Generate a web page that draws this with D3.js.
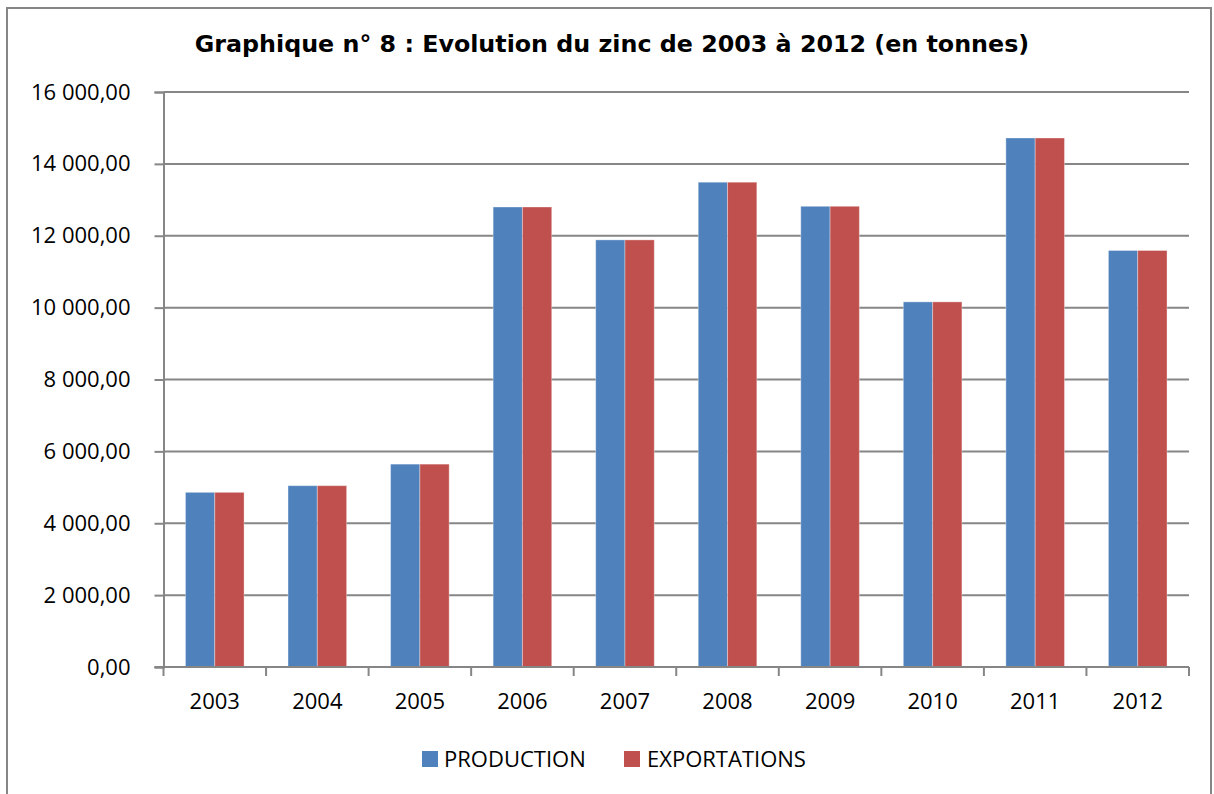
<!DOCTYPE html>
<html>
<head>
<meta charset="utf-8">
<script src="https://cdn.jsdelivr.net/npm/d3@7"></script>
<style>
  body { margin: 0; background: #fff; }
  text { font-family: "Open Sans", Lato, sans-serif; fill: #000; }
</style>
</head>
<body>
<svg id="chart" width="1214" height="794"></svg>
<script>
// data
var years = ["2003", "2004", "2005", "2006", "2007", "2008", "2009", "2010", "2011", "2012"];
var production = [4860, 5045, 5645, 12800, 11885, 13490, 12820, 10160, 14720, 11590];
var exportations = [4860, 5045, 5645, 12800, 11885, 13490, 12820, 10160, 14720, 11590];
var seriesNames = ["PRODUCTION", "EXPORTATIONS"];
var seriesColors = ["#4F81BD", "#C0504D"];
var yTicks = [0, 2000, 4000, 6000, 8000, 10000, 12000, 14000, 16000];

var svg = d3.select("#chart");
var margin = {left: 163.5, right: 1189, top: 92, bottom: 667};

// outer frame
svg.append("path")
    .attr("d", "M7,794 V8 H1211 V794")
    .attr("fill", "none")
    .attr("stroke", "#868686")
    .attr("stroke-width", 2);

var title = svg.append("text")
    .attr("x", 612).attr("y", 52)
    .attr("text-anchor", "middle")
    .style("font-family", "'DejaVu Sans', Verdana, sans-serif")
    .style("font-size", "20px")
    .style("font-weight", "bold")
    .text("Graphique n° 8 : Evolution du zinc de 2003 à 2012 (en tonnes)");
// fit the title to the width it has in the reference
var tw = title.node().getComputedTextLength();
title.style("font-size", (20 * 835 / tw) + "px");

var x = d3.scaleBand()
    .domain(years)
    .range([margin.left, margin.right])
    .paddingInner(1.5 / 3.5)
    .paddingOuter(0.75 / 3.5);

var x1 = d3.scaleBand()
    .domain(seriesNames)
    .range([0, x.bandwidth()]);

var y = d3.scaleLinear()
    .domain([0, 16000])
    .range([margin.bottom, margin.top]);

var fmt = function (v) {
    var s = d3.format(",.2f")(v);
    return s.replace(/,/g, " ").replace(".", ",");
};

// gridlines
svg.append("g")
    .selectAll("line")
    .data(yTicks.slice(1))
    .join("line")
    .attr("x1", margin.left).attr("x2", margin.right)
    .attr("y1", function (d) { return y(d); })
    .attr("y2", function (d) { return y(d); })
    .attr("stroke", "#868686")
    .attr("stroke-width", 2);

// y axis
var yAxis = svg.append("g")
    .attr("transform", "translate(" + margin.left + ",0)")
    .call(d3.axisLeft(y).tickValues(yTicks).tickFormat(fmt).tickSize(9).tickPadding(24));
yAxis.select(".domain").attr("stroke", "#868686").attr("stroke-width", 2);
yAxis.selectAll(".tick line").attr("stroke", "#868686").attr("stroke-width", 2);
yAxis.selectAll("text").style("font-size", "22px").attr("fill", "#000");

// bars
var data = years.map(function (yr, i) {
    return {year: yr, values: [production[i], exportations[i]]};
});

svg.append("g")
    .selectAll("g")
    .data(data)
    .join("g")
    .attr("transform", function (d) { return "translate(" + x(d.year) + ",0)"; })
    .selectAll("rect")
    .data(function (d) {
        return d.values.map(function (v, k) { return {name: seriesNames[k], value: v, k: k}; });
    })
    .join("rect")
    .attr("x", function (d) { return x1(d.name); })
    .attr("width", x1.bandwidth())
    .attr("y", function (d) { return y(d.value); })
    .attr("height", function (d) { return y(0) - y(d.value); })
    .attr("fill", function (d) { return seriesColors[d.k]; })
    .attr("stroke", "#fff")
    .attr("stroke-opacity", 0.35)
    .attr("stroke-width", 1);

// x axis
var step = x.step();
var xAxis = svg.append("g");
xAxis.append("line")
    .attr("x1", margin.left - 9).attr("x2", margin.right)
    .attr("y1", margin.bottom).attr("y2", margin.bottom)
    .attr("stroke", "#868686").attr("stroke-width", 2);
xAxis.selectAll(".xt")
    .data(d3.range(years.length + 1))
    .join("line")
    .attr("x1", function (i) { return margin.left + i * step; })
    .attr("x2", function (i) { return margin.left + i * step; })
    .attr("y1", margin.bottom).attr("y2", margin.bottom + 9)
    .attr("stroke", "#868686").attr("stroke-width", 2);
xAxis.selectAll("text")
    .data(years)
    .join("text")
    .attr("x", function (d) { return x(d) + x.bandwidth() / 2; })
    .attr("y", 709)
    .attr("text-anchor", "middle")
    .style("font-size", "22px")
    .text(function (d) { return d; });

// legend
var legendItems = [{x: 422, tx: 444}, {x: 624, tx: 647}];
var legend = svg.append("g");
legend.selectAll("rect")
    .data(seriesNames)
    .join("rect")
    .attr("x", function (d, i) { return legendItems[i].x; })
    .attr("y", 751)
    .attr("width", 16).attr("height", 16)
    .attr("fill", function (d, i) { return seriesColors[i]; });
legend.selectAll("text")
    .data(seriesNames)
    .join("text")
    .attr("x", function (d, i) { return legendItems[i].tx; })
    .attr("y", 767)
    .style("font-size", "22px")
    .text(function (d) { return d; });
</script>
</body>
</html>
